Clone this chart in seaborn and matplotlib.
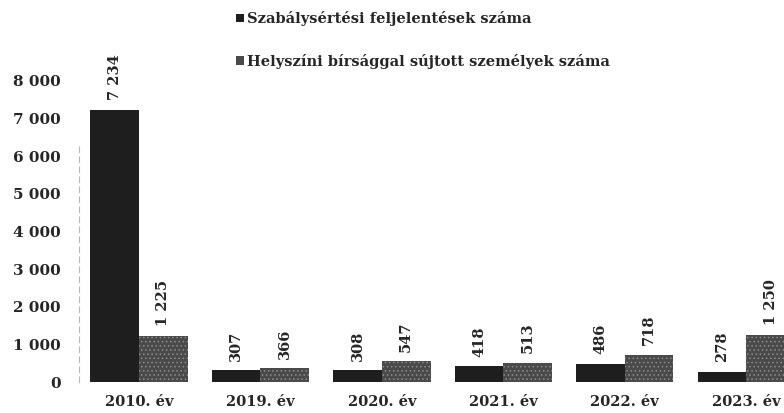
import numpy as np
import pandas as pd
import seaborn as sns
import matplotlib.pyplot as plt

years = ["2010. év", "2019. év", "2020. év", "2021. év", "2022. év", "2023. év"]
series_names = ["Szabálysértési feljelentések száma",
                "Helyszíni bírsággal sújtott személyek száma"]
feljelentes = [7234, 307, 308, 418, 486, 278]
birsag = [1225, 366, 547, 513, 718, 1250]
y_ticks = [0, 1000, 2000, 3000, 4000, 5000, 6000, 7000, 8000]

df = pd.DataFrame({
    "ev": years * 2,
    "sorozat": [series_names[0]] * len(years) + [series_names[1]] * len(years),
    "ertek": feljelentes + birsag,
})

sns.set_style("white")
plt.rcParams["font.family"] = ["DejaVu Serif"]
plt.rcParams["font.weight"] = "bold"
plt.rcParams["hatch.linewidth"] = 0.6


def fmt(v):
    return f"{int(v):,}".replace(",", " ")


fig = plt.figure(figsize=(7.84, 4.13), dpi=100)
ax = fig.add_axes([0.1008, 0.075, 0.9286, 0.729])

sns.barplot(data=df, x="ev", y="ertek", hue="sorozat",
            palette=["#1e1e1e", "#4a4a4a"], width=0.8, saturation=1,
            edgecolor="none", ax=ax)

# grainy look of the scanned second series
for bar in ax.containers[1]:
    bar.set_hatch("....")
    bar.set_edgecolor("#8c8c8c")
    bar.set_linewidth(0)

for cont in ax.containers:
    ax.bar_label(cont, labels=[fmt(v) for v in cont.datavalues], rotation=90,
                 padding=7, fontsize=10.5, fontweight="bold", clip_on=False)

ax.set_ylim(0, 8000)
ax.set_xlim(-0.494, 5.5)
ax.set_yticks(y_ticks)
ax.set_yticklabels([fmt(t) for t in y_ticks], fontsize=11, fontweight="bold")
ax.tick_params(axis="y", length=0, pad=13)
ax.tick_params(axis="x", length=0, pad=9, labelsize=10.5)
for lab in ax.get_xticklabels():
    lab.set_fontweight("bold")
ax.set_xlabel("")
ax.set_ylabel("")

for s in ["top", "right", "bottom"]:
    ax.spines[s].set_visible(False)
ax.spines["left"].set_color("#b8b8b8")
ax.spines["left"].set_linestyle((0, (5, 4)))
ax.spines["left"].set_linewidth(0.8)
ax.spines["left"].set_bounds(0, 6300)

handles, labels = ax.get_legend_handles_labels()
ax.legend(handles, labels, loc="upper left", bbox_to_anchor=(0.284, 1.005),
          bbox_transform=fig.transFigure, frameon=False,
          handlelength=0.55, handleheight=0.55, handletextpad=0.25,
          labelspacing=1.9, prop={"weight": "bold", "size": 10.5})

fig.savefig("out.png", dpi=100)
